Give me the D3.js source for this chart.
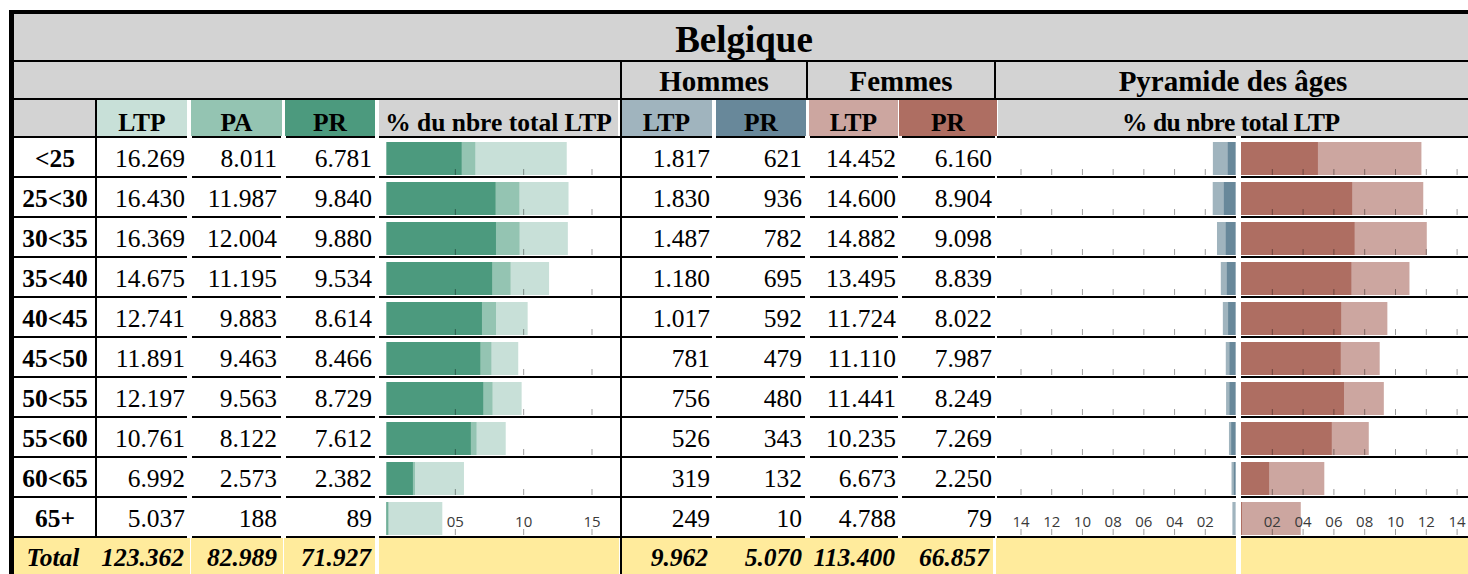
<!DOCTYPE html>
<html><head><meta charset="utf-8">
<script src="https://cdn.jsdelivr.net/npm/d3@7"></script>
<style>body{margin:0;background:#fff}svg{display:block}</style>
</head><body>
<script>
// ---------- data ----------
const title = "Belgique";
const ageGroups = ["<25","25<30","30<35","35<40","40<45","45<50","50<55","55<60","60<65","65+"];
const ltp  = [16269,16430,16369,14675,12741,11891,12197,10761,6992,5037];
const pa   = [8011,11987,12004,11195,9883,9463,9563,8122,2573,188];
const pr   = [6781,9840,9880,9534,8614,8466,8729,7612,2382,89];
const hLtp = [1817,1830,1487,1180,1017,781,756,526,319,249];
const hPr  = [621,936,782,695,592,479,480,343,132,10];
const fLtp = [14452,14600,14882,13495,11724,11110,11441,10235,6673,4788];
const fPr  = [6160,8904,9098,8839,8022,7987,8249,7269,2250,79];
const barTicks = [5,10,15];
const pyrTicks = [2,4,6,8,10,12,14];

// ---------- helpers ----------
const W = 1468, H = 574;
const serif = "'Liberation Serif','Times New Roman',serif";
const sans = "'Open Sans','DejaVu Sans',sans-serif";
const fmt = d3.formatLocale({decimal:",",thousands:".",grouping:[3],currency:["","€"]}).format(",d");
const tickFmt = d3.format("02d");
const C = {gray:"#d3d3d3", ltp:"#c8e0d8", pa:"#94c4b2", pr:"#4c9a7e",
           hLtp:"#a0b4be", hPr:"#68889a", fLtp:"#cca6a0", fPr:"#ae6e62", total:"#ffeb9c"};

const totLtp = d3.sum(ltp), totPa = d3.sum(pa), totPr = d3.sum(pr);
const totHLtp = d3.sum(hLtp), totHPr = d3.sum(hPr), totFLtp = d3.sum(fLtp), totFPr = d3.sum(fPr);
const pct = v => v / totLtp * 100;

const svg = d3.select("body").append("svg").attr("width", W).attr("height", H);

const y = d3.scaleBand().domain(ageGroups).range([137, 537]);
const xBar = d3.scaleLinear().domain([0, 15]).range([386.5, 591.5]);
const xMen = d3.scaleLinear().domain([0, 14]).range([1235.5, 1020.5]);
const xWomen = d3.scaleLinear().domain([0, 14]).range([1241, 1456.6]);

function rect(x0, y0, x1, y1, fill) {
  svg.append("rect").attr("x", x0).attr("y", y0).attr("width", x1 - x0).attr("height", y1 - y0).attr("fill", fill);
}
function text(str, x, yy, opts) {
  const t = svg.append("text").attr("x", x).attr("y", yy).text(str)
    .attr("font-family", opts.family || serif).attr("font-size", opts.size || 25.5)
    .attr("font-weight", opts.weight || "normal").attr("text-anchor", opts.anchor || "middle")
    .attr("fill", opts.fill || "#000");
  if (opts.style) t.attr("font-style", opts.style);
  if (opts.len) t.attr("textLength", opts.len).attr("lengthAdjust", "spacing");
  return t;
}

// ---------- header ----------
rect(14, 14, W, 60, C.gray);
rect(14, 62, W, 98, C.gray);
text(title, 744, 52, {size: 37, weight: "bold"});
text("Hommes", 714, 91, {size: 29, weight: "bold"});
text("Femmes", 901, 91, {size: 29, weight: "bold"});
text("Pyramide des âges", 1233, 91, {size: 29, weight: "bold"});

const headerCells = [
  [14, 95, C.gray, ""], [97, 187, C.ltp, "LTP"], [191, 282, C.pa, "PA"], [285, 375, C.pr, "PR"],
  [379, 618, C.gray, "% du nbre total LTP"], [621, 712, C.hLtp, "LTP"], [716, 806, C.hPr, "PR"],
  [809, 898, C.fLtp, "LTP"], [899, 997, C.fPr, "PR"], [998, W, C.gray, "% du nbre total LTP"]
];
headerCells.forEach(([a, b, f, s], i) => {
  rect(a, 100, b, 136, f);
  if (s) text(s, (a + b) / 2 - (i === 9 ? 2 : 0), 131, {size: 25.5, weight: "bold", len: i === 9 ? 218 : null});
});

// ---------- bars ----------
const bh = 33;
ageGroups.forEach((ag, i) => {
  const top = y(ag) + 5;
  // left chart
  [[ltp, C.ltp], [pa, C.pa], [pr, C.pr]].forEach(([arr, col]) => {
    svg.append("rect").attr("x", xBar(0)).attr("y", top)
      .attr("width", xBar(pct(arr[i])) - xBar(0)).attr("height", bh).attr("fill", col);
  });
  // pyramid men
  [[hLtp, C.hLtp], [hPr, C.hPr]].forEach(([arr, col]) => {
    svg.append("rect").attr("x", xMen(pct(arr[i]))).attr("y", top)
      .attr("width", xMen(0) - xMen(pct(arr[i]))).attr("height", bh).attr("fill", col);
  });
  // pyramid women
  [[fLtp, C.fLtp], [fPr, C.fPr]].forEach(([arr, col]) => {
    svg.append("rect").attr("x", xWomen(0)).attr("y", top)
      .attr("width", xWomen(pct(arr[i])) - xWomen(0)).attr("height", bh).attr("fill", col);
  });
});

// ---------- ticks (axes per row) ----------
function tickRow(scale, vals, gy) {
  const g = svg.append("g").attr("transform", `translate(0,${gy})`)
    .call(d3.axisBottom(scale).tickValues(vals).tickSize(-6).tickFormat(""));
  g.select(".domain").remove();
  g.selectAll(".tick line").attr("stroke", "rgba(0,0,0,0.38)").attr("stroke-width", 1);
}
function labelRow(scale, vals, gy) {
  const g = svg.append("g").attr("transform", `translate(0,${gy})`)
    .call(d3.axisBottom(scale).tickValues(vals).tickSize(0).tickFormat(tickFmt));
  g.select(".domain").remove();
  g.selectAll(".tick line").remove();
  g.attr("font-family", sans).attr("font-size", 15);
  g.selectAll(".tick text").attr("y", 0).attr("dy", 0).attr("fill", "#3a3a3a");
}
ageGroups.forEach(ag => {
  const gy = y(ag) + 38;
  tickRow(xBar, barTicks, gy);
  tickRow(xMen, pyrTicks, gy);
  tickRow(xWomen, pyrTicks, gy);
});
const lastY = y(ageGroups[ageGroups.length - 1]) + 30;
labelRow(xBar, barTicks, lastY);
labelRow(xMen, pyrTicks, lastY);
labelRow(xWomen, pyrTicks, lastY);

// ---------- table numbers ----------
const numCols = [[ltp, 185], [pa, 277], [pr, 372], [hLtp, 710], [hPr, 802], [fLtp, 896], [fPr, 992]];
ageGroups.forEach((ag, i) => {
  const by = y(ag) + 30;
  text(ag, 55, by, {weight: "bold"});
  numCols.forEach(([arr, x]) => text(fmt(arr[i]), x, by, {anchor: "end"}));
});

// ---------- total row ----------
[[14, 190], [191, 283], [284, 375], [379, 619], [622, 993], [996, 1236], [1241, W]].forEach(([a, b]) => rect(a, 538, b, H, C.total));
text("Total", 53, 566, {weight: "bold", style: "italic"});
[[totLtp, 184], [totPa, 277], [totPr, 371], [totHLtp, 708], [totHPr, 802], [totFLtp, 895], [totFPr, 989]]
  .forEach(([v, x]) => text(fmt(v), x, 566, {anchor: "end", weight: "bold", style: "italic"}));

// ---------- grid lines ----------
function hline(x0, x1, yy) { rect(x0, yy - 1, x1, yy + 1, "#000"); }
function vline(xx, y0, y1) { rect(xx - 1, y0, xx + 1, y1, "#000"); }
hline(14, W, 61);
hline(14, W, 99);
const segs = [[14, 187], [192, 281], [286, 375], [379, 621], [621, 712], [716, 805], [810, 898], [902, 995], [997, 1236], [1241, W]];
for (let k = 0; k <= ageGroups.length; k++) {
  const yy = 137 + 40 * k;
  segs.forEach(([a, b]) => hline(a, b, yy));
}
vline(96, 99, 537);
vline(621, 61, H);
vline(807, 61, 99);
vline(995, 61, 99);
// outer border
rect(9, 10, W, 14, "#000");
rect(9, 10, 14, H, "#000");
</script>
</body></html>
